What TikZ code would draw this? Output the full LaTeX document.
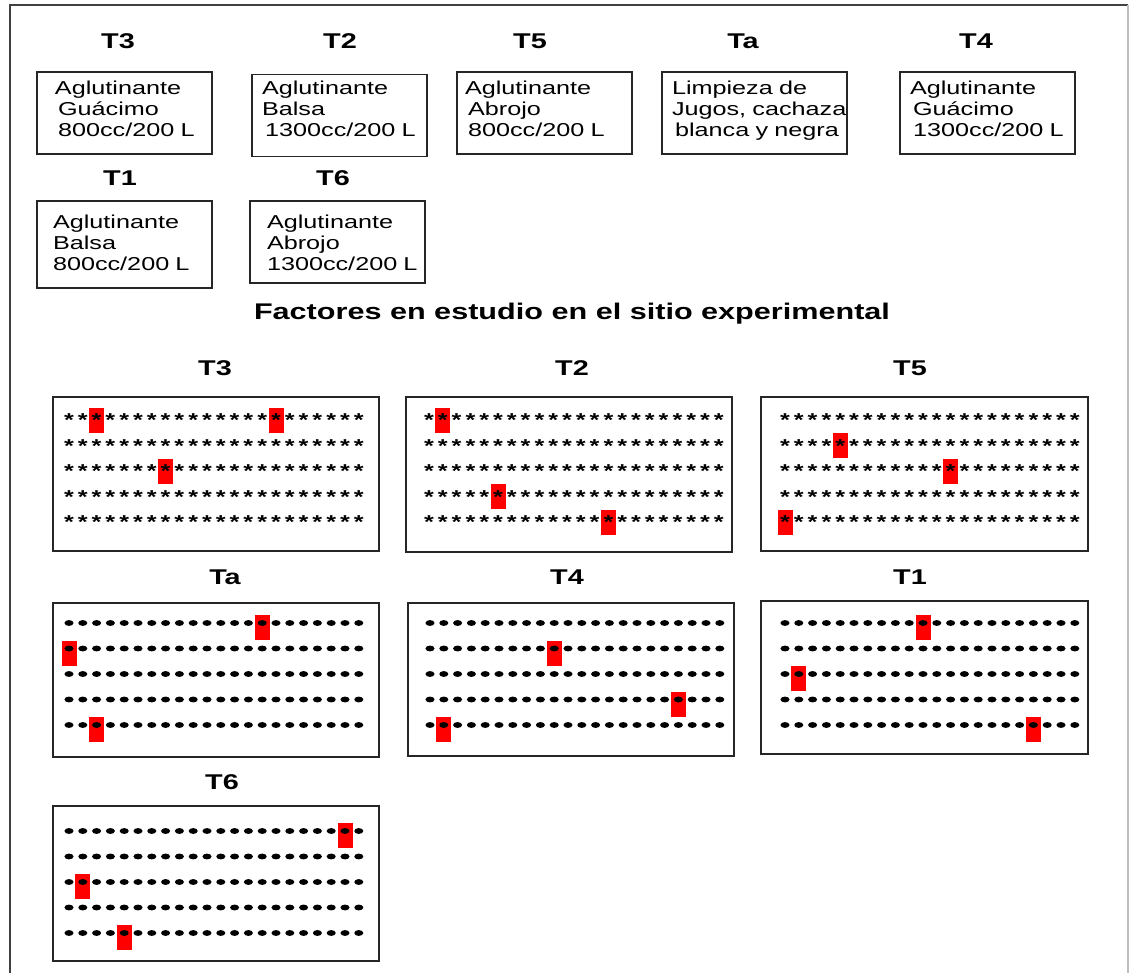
\documentclass[tikz,border=0pt]{standalone}
\usepackage{fontspec}
\setmainfont{Liberation Sans}[FakeStretch=1.35]
\usetikzlibrary{shapes.geometric,positioning,fit}
\hyphenpenalty=10000
\exhyphenpenalty=10000

\begin{document}
\begin{tikzpicture}[
    x=0.75pt, y=-0.75pt,
    % --- STYLES ---
    frame/.style={line width=1.5pt, black!75},
    factor/.style={
        rectangle, draw=black!85, line width=1.3pt,
        minimum height=61.5pt, align=left,
        text height=10pt, text depth=37.3pt,
        font=\fontsize{14}{15.75}\selectfont
    },
    tlabel/.style={font=\bfseries\fontsize{16}{18}\selectfont},
    heading/.style={font=\bfseries\fontsize{17}{20}\selectfont},
    plotbox/.style={rectangle, draw=black!85, line width=1.5pt, inner sep=0pt},
    ast/.style={inner sep=0pt, anchor=base, yshift=-8.1pt, font=\bfseries\fontsize{14}{14}\selectfont},
    dot/.style={ellipse, fill=black, inner sep=0pt, minimum width=6.8pt, minimum height=4.4pt},
    cell/.style={fill=red}
]
\useasboundingbox (0,0) rectangle (1129,973);

% ===== 1. FRAME =====
\draw[frame] (10,973) -- (10,5) -- (1128,5);
\draw[black!25, line width=1pt] (1128,5) -- (1128,973);

% ===== 2. TREATMENT LABELS =====
\node[tlabel] (tT3) at (118,41) {T3};
\node[tlabel] (tT2) at (340,41) {T2};
\node[tlabel] (tT5) at (530,41) {T5};
\node[tlabel] (tTa) at (743,41) {Ta};
\node[tlabel] (tT4) at (976,41) {T4};
\node[tlabel] (tT1) at (120,178) {T1};
\node[tlabel] (tT6) at (333,178) {T6};

% ===== 3. TREATMENT BOXES =====
\node[factor, text width=104.25pt, inner xsep=13.5pt] (fT3) at (124.5,113) {Aglutinante\\ \,Guácimo\\ \,800cc/200~L};
\node[factor, text width=116.25pt, inner xsep=7.5pt, text depth=41pt] (fT2) at (339.5,115.5) {Aglutinante\\ Balsa\\ \,1300cc/200~L};
\node[factor, text width=119.25pt, inner xsep=6pt] (fT5) at (544.5,113) {Aglutinante\\ \,Abrojo\\ \,800cc/200~L};
\node[factor, text width=123.75pt, inner xsep=7.5pt] (fTa) at (754.5,113) {Limpieza~de\\ Jugos,~cachaza\\ \,blanca~y~negra};
\node[factor, text width=116.25pt, inner xsep=7.5pt] (fT4) at (987.5,113) {Aglutinante\\ \,Guácimo\\ \,1300cc/200~L};
\node[factor, text width=107.25pt, inner xsep=12pt, minimum height=65.25pt, text depth=33.6pt] (fT1) at (124.5,244.5) {Aglutinante\\ Balsa\\ 800cc/200~L};
\node[factor, text width=105.75pt, inner xsep=12.75pt, text depth=29.8pt] (fT6) at (337.5,242) {Aglutinante\\ Abrojo\\ 1300cc/200~L};

\node[heading] (title) at (572,314) {Factores en estudio en el sitio experimental};

% ===== 4. EXPERIMENTAL PLOTS =====
% name / box corners / label / first marker x, first row offset / marker / red cells (col/row)
\foreach \nm/\lx/\ty/\rx/\by/\lbx/\lby/\xo/\yo/\mk/\mtxt/\reds in {
    T3/53/397/379/551/215/368/69/19/ast/*/{2/1,15/1,7/3},
    T2/406/397/732/552/572/368/429/19/ast/*/{1/1,5/4,13/5},
    T5/761/397/1088/551/910/368/785/19/ast/*/{4/2,12/3,0/5},
    Ta/53/603/379/757/225/577/69/20/dot/{}/{14/1,0/2,2/5},
    T4/408/603/734/756/567/577/430/20/dot/{}/{9/2,18/4,1/5},
    T1/761/601/1088/754/910/577/785/22/dot/{}/{10/1,1/3,18/5},
    T6/53/806/379/961/222/782/69/25/dot/{}/{20/1,1/3,4/5}}{
    \node[plotbox, fit={(\lx,\ty) (\rx,\by)}] (plot\nm) {};
    \node[tlabel] (lab\nm) at (\lbx,\lby) {\nm};
    \foreach \col/\rw in \reds
        \fill[cell] (\xo+\col*13.8-7.5, \ty+\yo+\rw*25.5-25.5-8) rectangle +(15,25);
    \foreach \rw in {0,...,4}
        \foreach \col in {0,...,21}
            \node[\mk] (m\nm-\rw-\col) at (\xo+\col*13.8, \ty+\yo+\rw*25.5) {\mtxt};
}

\end{tikzpicture}
\end{document}
